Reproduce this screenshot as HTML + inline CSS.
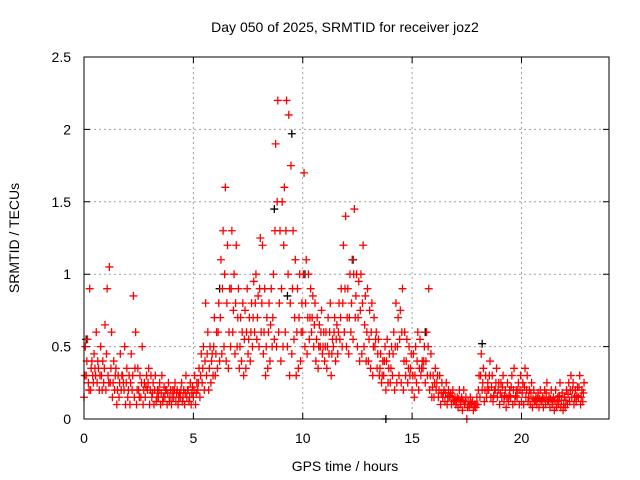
<!DOCTYPE html>
<html><head><meta charset="utf-8"><style>
html,body{margin:0;padding:0;background:#fff;}
svg{display:block;font-family:"Liberation Sans",sans-serif;}
</style></head><body>
<svg id="chart" width="640" height="480" viewBox="0 0 640 480">
<text x="345" y="32" font-size="14" text-anchor="middle">Day 050 of 2025, SRMTID for receiver joz2</text>
<text x="345" y="471" font-size="14" text-anchor="middle">GPS time / hours</text>
<text transform="translate(19,238) rotate(-90)" font-size="14" text-anchor="middle">SRMTID / TECUs</text>
<g id="grid"></g>
<g id="ticks"></g>
<g id="marks"></g>
<rect x="84" y="57" width="525" height="362" fill="none" stroke="#000" stroke-width="1"/>
</svg>
<script>
const xTicks=[0,5,10,15,20];
const yTicks=[0,0.5,1,1.5,2,2.5];
const yTickLabels=["0","0.5","1","1.5","2","2.5"];
const slotStep=0.1;
const redA=[.15,.3,.25,.2,.3,.35,.25,.2,.3,.25,
.2,.3,.25,.15,.2,.1,.15,.2,.25,.1,
.15,.1,.2,.15,.1,.2,.15,.1,.15,.2,
.1,.15,.1,.12,.15,.1,.12,.15,.1,.12,
.1,.15,.12,.1,.15,.12,.1,.15,.12,.1,
.15,.1,.2,.15,.25,.2,.3,.2,.25,.3,
.3,.35,.4,.45,.5,.4,.35,.5,.6,.45,
.5,.35,.4,.3,.35,.45,.4,.5,.6,.55,
.5,.6,.45,.3,.35,.4,.5,.55,.5,.6,
.4,.5,.6,.5,.3,.45,.55,.3,.35,.4,
.6,.5,.45,.55,.6,.5,.4,.35,.5,.45,
.4,.35,.45,.3,.5,.4,.45,.55,.5,.6,
.5,.45,.6,.55,.7,.5,.4,.45,.5,.4,
.4,.35,.3,.5,.35,.3,.25,.3,.2,.25,
.25,.3,.2,.25,.3,.25,.2,.3,.25,.3,
.2,.15,.25,.2,.3,.35,.25,.3,.2,.15,
.15,.2,.15,.1,.15,.12,.1,.15,.1,.12,
.1,.08,.1,.06,.1,0,.08,.1,.06,.08,
.1,.15,.2,.12,.15,.2,.15,.12,.2,.15,
.1,.15,.12,.08,.12,.15,.1,.12,.15,.1,
.12,.1,.15,.12,.1,.08,.12,.1,.08,.12,
.08,.1,.12,.08,.1,.06,.08,.1,.08,.06,
.08,.1,.12,.15,.1,.12,.15,.1,.12];
const redB=[.5,.55,.9,.4,.45,.6,.35,.5,.4,.65,
.9,1.05,.6,.4,.35,.3,.45,.3,.5,.35,
.3,.45,.85,.6,.35,.3,.5,.25,.3,.35,
.3,.25,.3,.2,.25,.3,.22,.2,.25,.2,
.2,.25,.2,.18,.25,.2,.3,.2,.25,.22,
.3,.25,.35,.45,.5,.8,.6,.5,.45,.7,
.6,.8,1.1,1.3,1.6,1.2,.9,1.3,1.0,1.2,
.9,.7,.8,.75,.9,.7,.8,.95,1.0,.85,
1.25,1.2,.9,.7,.8,.9,1.0,1.9,2.2,1.3,
1.5,1.6,2.2,2.1,1.75,1.3,1.1,.9,1.0,.8,
1.7,1.1,1.0,.9,.85,.8,.7,.65,.75,.6,
.6,.7,.8,.55,.7,.65,.8,.9,1.2,1.4,
.9,1.0,1.1,1.45,1.0,.95,1.0,1.2,.85,.9,
.75,.8,.7,.6,.55,.45,.4,.5,.55,.45,
.5,.6,.8,.7,.75,.9,.6,.55,.5,.45,
.45,.5,.6,.55,.4,.5,.6,.9,.45,.3,
.35,.3,.3,.25,.2,.25,.2,.18,.2,.15,
.15,.2,.15,.2,.15,.12,.15,.12,.1,.15,
.3,.45,.35,.3,.25,.4,.3,.2,.35,.25,
.25,.3,.2,.25,.2,.3,.35,.2,.25,.3,
.25,.35,.3,.2,.25,.2,.15,.18,.2,.15,
.2,.25,.15,.2,.15,.2,.15,.25,.18,.15,
.2,.25,.3,.25,.2,.22,.3,.2,.25];
const redC=[.3,.4,.2,.35,.25,.3,.4,.3,.2,.35,
.45,.25,.35,.25,.3,.2,.25,.3,.2,.25,
.2,.25,.3,.35,.2,.15,.25,.2,.22,.25,
.2,.18,.2,.15,.2,.18,.15,.2,.18,.15,
.15,.2,.18,.15,.2,.15,.18,.2,.15,.18,
.2,.18,.25,.3,.35,.4,.45,.35,.4,.5,
.45,.6,.7,.9,1.0,.8,.6,.9,.75,.8,
.7,.5,.6,.55,.6,.55,.6,.7,.8,.7,
.9,.8,.6,.5,.6,.65,.7,1.3,1.5,.8,
.9,1.2,1.3,1.0,.8,.9,.7,.6,.7,.6,
1.0,.8,.7,.7,.7,.65,.55,.5,.6,.5,
.5,.5,.6,.45,.6,.55,.6,.7,.8,.9,
.7,.7,.8,1.0,.85,.7,.75,.8,.65,.6,
.55,.6,.5,.55,.45,.35,.3,.4,.4,.35,
.35,.45,.5,.5,.55,.6,.4,.4,.35,.35,
.3,.3,.4,.35,.35,.4,.4,.5,.3,.22,
.25,.25,.2,.18,.18,.18,.15,.16,.15,.13,
.12,.14,.12,.13,.12,.08,.1,.11,.08,.1,
.2,.3,.25,.2,.2,.3,.22,.16,.25,.2,
.18,.22,.16,.15,.16,.22,.2,.16,.2,.2,
.18,.22,.2,.15,.18,.14,.13,.14,.14,.13,
.14,.18,.13,.14,.12,.13,.12,.16,.13,.1,
.13,.17,.2,.2,.15,.16,.22,.15,.18];
const blackT=[0.1,6.2,8.7,9.5,10.1,12.3,13.8,18.2,9.3,15.6];
const blackV=[0.55,0.9,1.45,1.97,1.0,1.1,0.0,0.52,0.85,0.6];

const NS="http://www.w3.org/2000/svg";
const X0=84,X1=609,Y0=419,Y1=57,XMAX=24,YMAX=2.5;
function sx(t){return X0+(X1-X0)*t/XMAX;}
function sy(v){return Y0-(Y0-Y1)*v/YMAX;}
const grid=document.getElementById('grid'),ticks=document.getElementById('ticks'),marks=document.getElementById('marks');
function mk(tag,attrs,parent){const e=document.createElementNS(NS,tag);for(const k in attrs)e.setAttribute(k,attrs[k]);parent.appendChild(e);return e;}
xTicks.forEach(t=>{
  const x=sx(t);
  if(t>0){const g=mk('line',{x1:x,x2:x,y1:Y1,y2:Y0,stroke:'#a0a0a0','stroke-dasharray':'2,3'},grid);
  
  }
  const tk=mk('path',{d:`M${x},${Y0}v-6M${x},${Y1}v6`,stroke:'#000'},ticks);
  
  
  const l=mk('text',{x:x,y:443,'font-size':14,'text-anchor':'middle'},ticks);l.textContent=String(t);
  
  
});
yTicks.forEach((v,i)=>{
  const y=sy(v);
  if(v>0&&v<YMAX){const g=mk('line',{x1:X0,x2:X1,y1:y,y2:y,stroke:'#a0a0a0','stroke-dasharray':'2,3'},grid);
  
  }
  const tk=mk('path',{d:`M${X0},${y}h6M${X1},${y}h-6`,stroke:'#000'},ticks);
  
  
  const l=mk('text',{x:71,y:y+5,'font-size':14,'text-anchor':'end'},ticks);l.textContent=yTickLabels[i];
  
  
});
function plus(t,v,color,name){
  const x=sx(t),y=sy(v);
  const p=mk('path',{d:`M${x-4},${y}h8M${x},${y-4}v8`,stroke:color,'stroke-width':1.3,fill:'none'},marks);
  
  
}
blackT.forEach((t,i)=>plus(t,blackV[i],'#000','black-point'));
redA.forEach((v,i)=>plus(i*slotStep,v,'#ff0000','red-point'));
redC.forEach((v,i)=>plus(i*slotStep+0.03,v,'#ff0000','red-point'));
redB.forEach((v,i)=>plus(i*slotStep+0.06,v,'#ff0000','red-point'));
</script>
</body></html>
